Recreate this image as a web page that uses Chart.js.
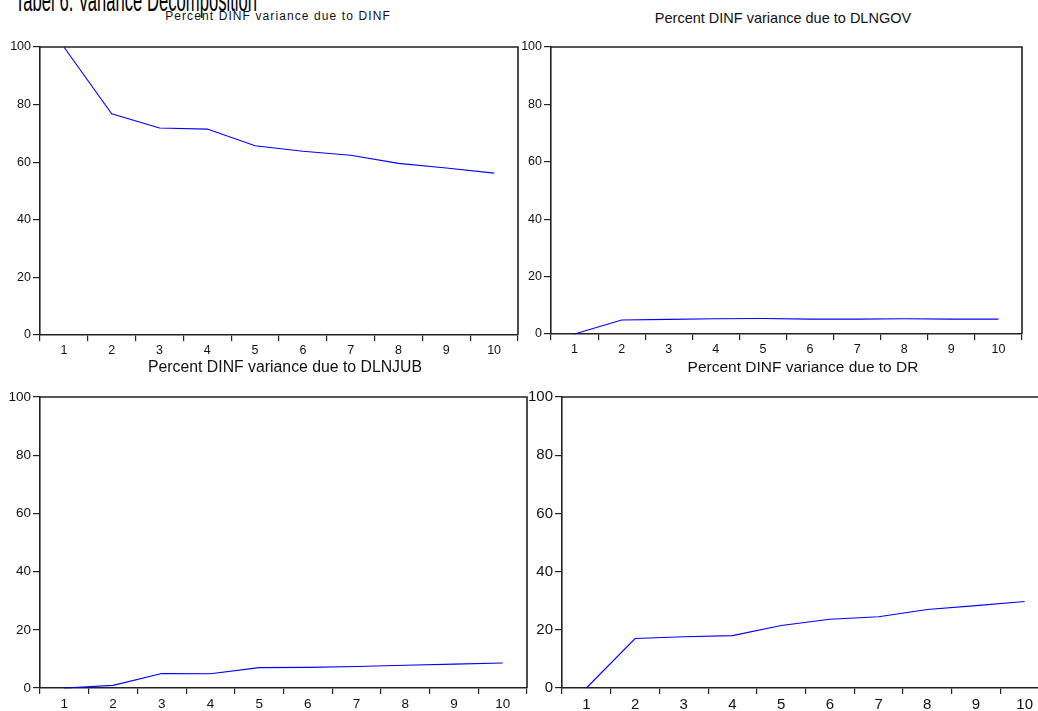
<!DOCTYPE html>
<html>
<head>
<meta charset="utf-8">
<script src="https://cdn.jsdelivr.net/npm/chart.js@4.4.0/dist/chart.umd.min.js"></script>
<style>
  html, body { margin: 0; padding: 0; background: #fff; }
  #page { position: relative; width: 1038px; height: 711px; overflow: hidden; background: #fff;
          font-family: "Liberation Sans", Arial, sans-serif; color: #111; }
  canvas.panel { position: absolute; }
  .ttl { position: absolute; white-space: nowrap; transform: translate(-50%, -50%); color: #111; }
  #head { position: absolute; left: 15px; top: -16px; font-size: 32px; line-height: 32px; white-space: nowrap;
          transform: scaleX(0.52); transform-origin: 0 0; color: #000; }
</style>
</head>
<body>
<div id="page">
  <div id="head">Tabel 6. Variance Decomposition</div>
</div>
<script>
// ---- data ----
const periods = ['1','2','3','4','5','6','7','8','9','10'];
const dueToDINF   = [100, 76.8, 71.9, 71.5, 65.7, 63.8, 62.4, 59.6, 58.0, 56.2];
const dueToDLNGOV = [0, 4.9, 5.1, 5.3, 5.4, 5.2, 5.2, 5.3, 5.2, 5.2];
const dueToDLNJUB = [0, 0.9, 5.0, 4.9, 7.0, 7.1, 7.4, 7.8, 8.2, 8.6];
const dueToDR     = [0, 17.0, 17.6, 18.0, 21.5, 23.6, 24.5, 27.0, 28.3, 29.7];
const yTickValues = [0, 20, 40, 60, 80, 100];
const panelTitles = [
  'Percent DINF variance due to DINF',
  'Percent DINF variance due to DLNGOV',
  'Percent DINF variance due to DLNJUB',
  'Percent DINF variance due to DR'
];

// ---- layout (plot areas in page pixels) ----
const panels = [
  { data: dueToDINF,   title: panelTitles[0], L: 40,  T: 47,  R: 518,  B: 335, tickFont: 12.5,
    tx: 278, ty: 16, tFont: 12, tSpace: 1.1 },
  { data: dueToDLNGOV, title: panelTitles[1], L: 551, T: 47,  R: 1022, B: 334, tickFont: 12.5,
    tx: 783, ty: 18, tFont: 14.5, tSpace: 0 },
  { data: dueToDLNJUB, title: panelTitles[2], L: 40,  T: 397, R: 527,  B: 688, tickFont: 13.5,
    tx: 285, ty: 367, tFont: 15.8, tSpace: 0 },
  { data: dueToDR,     title: panelTitles[3], L: 562, T: 397, R: 1049, B: 688, tickFont: 15,
    tx: 803, ty: 367, tFont: 15.5, tSpace: 0 }
];

const YW = 40, XH = 30, PAD = 12;
const page = document.getElementById('page');

const framePlugin = {
  id: 'frame',
  afterDraw(chart) {
    const a = chart.chartArea, ctx = chart.ctx;
    ctx.save();
    ctx.strokeStyle = '#222';
    ctx.lineWidth = 1.6;
    ctx.beginPath();
    ctx.moveTo(a.left, a.top);
    ctx.lineTo(a.right, a.top);
    ctx.lineTo(a.right, a.bottom);
    ctx.stroke();
    ctx.restore();
  }
};

panels.forEach(p => {
  const t = document.createElement('div');
  t.className = 'ttl';
  t.textContent = p.title;
  t.style.left = p.tx + 'px';
  t.style.top = p.ty + 'px';
  t.style.fontSize = p.tFont + 'px';
  t.style.letterSpacing = p.tSpace + 'px';
  page.appendChild(t);

  const cv = document.createElement('canvas');
  cv.className = 'panel';
  const w = p.R - p.L + YW + PAD, h = p.B - p.T + PAD + XH;
  cv.style.left = (p.L - YW) + 'px';
  cv.style.top = (p.T - PAD) + 'px';
  cv.style.width = w + 'px';
  cv.style.height = h + 'px';
  cv.width = w; cv.height = h;
  page.appendChild(cv);

  new Chart(cv, {
    type: 'line',
    data: {
      labels: periods,
      datasets: [{
        data: p.data,
        borderColor: '#0000ff',
        borderWidth: 1.1,
        pointRadius: 0,
        tension: 0,
        fill: false,
        clip: false
      }]
    },
    options: {
      responsive: false,
      animation: false,
      devicePixelRatio: 1,
      layout: { padding: { left: 0, top: PAD, right: PAD, bottom: 0 } },
      plugins: { legend: { display: false }, title: { display: false }, tooltip: { enabled: false } },
      scales: {
        x: {
          type: 'category',
          offset: true,
          grid: { display: true, offset: true, drawOnChartArea: false, drawTicks: true,
                  tickLength: 6, color: '#222', lineWidth: 1.2 },
          border: { display: true, color: '#222', width: 1.6 },
          ticks: { color: '#111', font: { family: 'Liberation Sans, Arial', size: p.tickFont },
                   padding: 2, maxRotation: 0, autoSkip: false },
          afterFit(s) { s.height = XH; }
        },
        y: {
          type: 'linear',
          min: 0, max: 100,
          afterBuildTicks(s) { s.ticks = yTickValues.map(v => ({ value: v })); },
          grid: { display: true, drawOnChartArea: false, drawTicks: true,
                  tickLength: 7, color: '#222', lineWidth: 1.2 },
          border: { display: true, color: '#222', width: 1.6 },
          ticks: { color: '#111', font: { family: 'Liberation Sans, Arial', size: p.tickFont },
                   padding: 2 },
          afterFit(s) { s.width = YW; }
        }
      }
    },
    plugins: [framePlugin]
  });
});
</script>
</body>
</html>
